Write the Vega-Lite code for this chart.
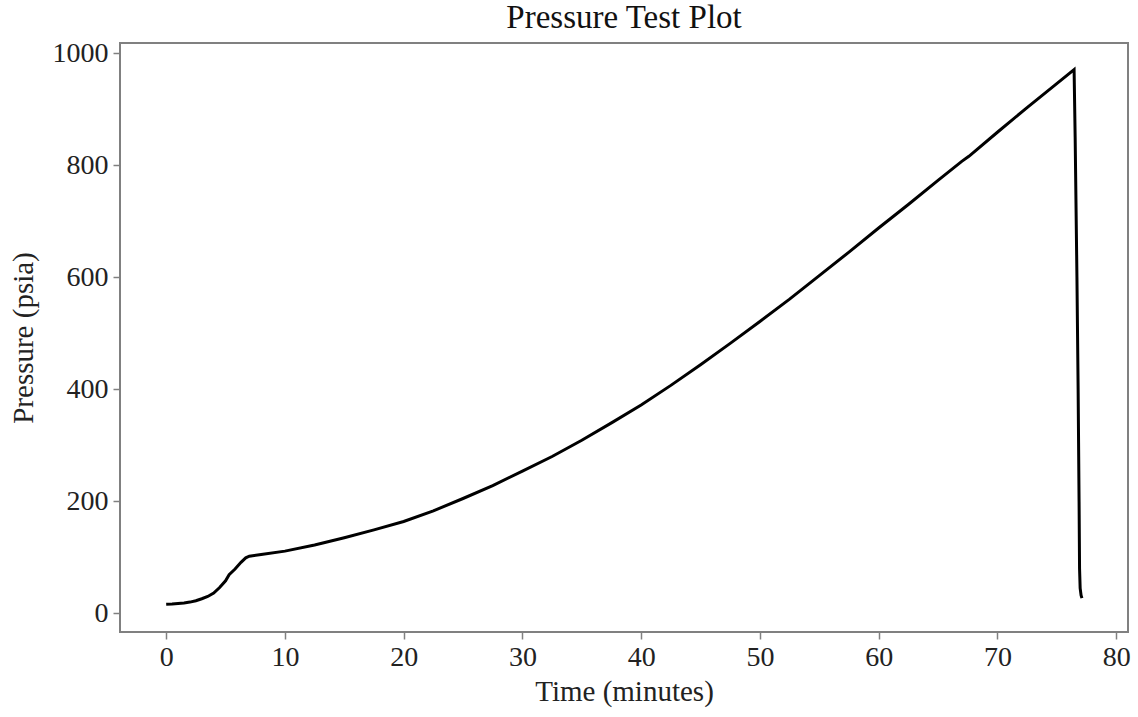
{
  "$schema": "https://vega.github.io/schema/vega-lite/v6.json",
  "autosize": "none",
  "width": 1008,
  "height": 589,
  "padding": {"left": 120, "top": 43, "right": 10, "bottom": 85},
  "background": "white",
  "title": {"text": "Pressure Test Plot", "font": "Liberation Serif", "fontSize": 33, "fontWeight": "normal", "color": "#111111", "offset": 4, "anchor": "middle"},
  "config": {
    "view": {"stroke": "#808080", "strokeWidth": 2},
    "axis": {
      "labelFont": "Liberation Serif", "labelFontSize": 28, "labelColor": "#222222",
      "titleFont": "Liberation Serif", "titleFontSize": 29, "titleFontWeight": "normal", "titleColor": "#222222",
      "grid": false, "domain": false, "tickColor": "#808080", "tickSize": 7, "tickWidth": 1.5, "labelPadding": 4
    }
  },
  "data": {"values": [
    {"t": 0, "p": 16}, {"t": 0.5, "p": 16.5}, {"t": 1, "p": 17.5}, {"t": 1.5, "p": 18.5}, {"t": 2, "p": 20},
    {"t": 2.5, "p": 22.5}, {"t": 3, "p": 26}, {"t": 3.5, "p": 30}, {"t": 4, "p": 36}, {"t": 4.5, "p": 46},
    {"t": 5, "p": 58}, {"t": 5.3, "p": 69}, {"t": 5.8, "p": 79}, {"t": 6.3, "p": 91}, {"t": 6.7, "p": 99},
    {"t": 7, "p": 102}, {"t": 8, "p": 105}, {"t": 10, "p": 111}, {"t": 12.5, "p": 122}, {"t": 15, "p": 135},
    {"t": 17.5, "p": 149}, {"t": 20, "p": 164}, {"t": 22.5, "p": 183}, {"t": 25, "p": 205}, {"t": 27.5, "p": 228},
    {"t": 30, "p": 254}, {"t": 32.5, "p": 280}, {"t": 35, "p": 309}, {"t": 37.5, "p": 340}, {"t": 40, "p": 372},
    {"t": 42.5, "p": 407}, {"t": 45, "p": 444}, {"t": 47.5, "p": 482}, {"t": 50, "p": 521}, {"t": 52.5, "p": 561},
    {"t": 55, "p": 603}, {"t": 57.5, "p": 645}, {"t": 60, "p": 688}, {"t": 62.5, "p": 730}, {"t": 65, "p": 773},
    {"t": 67, "p": 807}, {"t": 67.6, "p": 816}, {"t": 70, "p": 859}, {"t": 72.5, "p": 903}, {"t": 75, "p": 946},
    {"t": 76.46, "p": 971}, {"t": 76.55, "p": 850}, {"t": 76.7, "p": 600}, {"t": 76.8, "p": 400},
    {"t": 76.88, "p": 200}, {"t": 76.92, "p": 80}, {"t": 76.97, "p": 45}, {"t": 77.05, "p": 32}, {"t": 77.12, "p": 27}
  ]},
  "mark": {"type": "line", "color": "#000000", "strokeWidth": 3, "clip": true},
  "encoding": {
    "x": {"field": "t", "type": "quantitative", "title": "Time (minutes)",
          "scale": {"domain": [-3.89, 81.0], "nice": false, "zero": false},
          "axis": {"values": [0, 10, 20, 30, 40, 50, 60, 70, 80], "format": "d", "titlePadding": 6}},
    "y": {"field": "p", "type": "quantitative", "title": "Pressure (psia)",
          "scale": {"domain": [-33.4, 1018.4], "nice": false, "zero": false},
          "axis": {"values": [0, 200, 400, 600, 800, 1000], "format": "d", "titlePadding": 14, "labelPadding": 5}}
  }
}
